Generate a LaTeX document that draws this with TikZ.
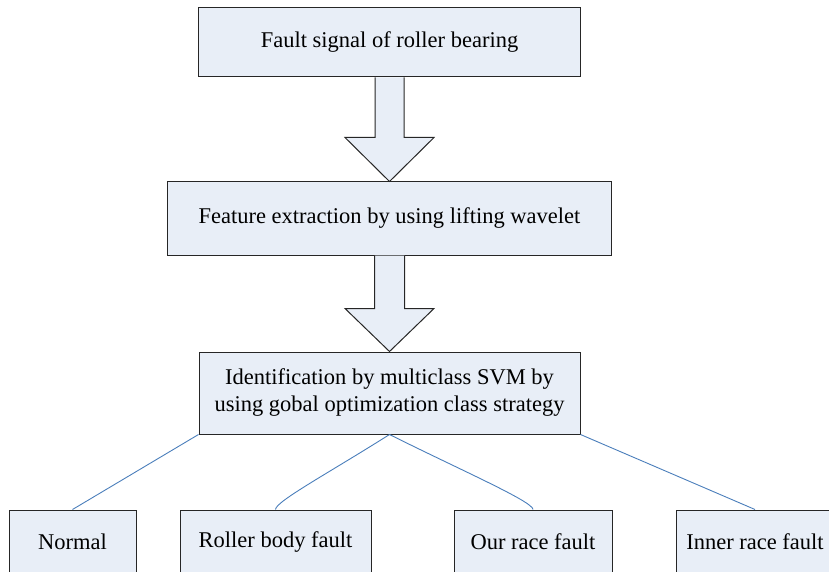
\documentclass[tikz,border=0pt]{standalone}
\usepackage{fontspec}
\setmainfont{Liberation Serif}
\usetikzlibrary{positioning,calc}
\definecolor{boxfill}{RGB}{232,238,247}
\definecolor{linkblue}{RGB}{74,126,187}

\begin{document}
\begin{tikzpicture}[x=1pt, y=-1pt,
    flow block/.style={draw=black!85, line width=1pt, fill=boxfill, rectangle, align=center, inner sep=0pt, font=\fontsize{22.5}{27}\selectfont},
    class block/.style={flow block, minimum width=158, minimum height=64},
    fat arrow/.style={draw=black!85, line width=1pt, fill=boxfill, line join=miter},
    link/.style={draw=linkblue, line width=0.9pt}]
    \useasboundingbox (0,0) rectangle (829,572);
    \clip (0,0) rectangle (829,572);

    \node[flow block, minimum width=382, minimum height=69] (sig) at (389.5,42.5) {Fault signal of roller bearing};
    \node[flow block, minimum width=444, minimum height=73] (feat) at (389.5,218.5) {Feature extraction by using lifting wavelet};
    \node[flow block, minimum width=381, minimum height=82] (svm) at (389.5,393) {Identification by multiclass SVM by\\using gobal optimization class strategy};

    \node[class block, minimum width=127] (norm) at (72.5,542) {Normal};
    \node[class block, minimum width=191] (roll) at (275.5,542) {Roller body fault};
    \node[class block] (outr) at (533,542) {Our race fault};
    \node[class block] (innr) at (755,542) {Inner race fault};

    % block arrows
    \draw[fat arrow] ($(sig.south)+(-14.5,0)$) -- ($(feat.north)+(-14.5,-44)$) -- ($(feat.north)+(-44.5,-44)$) -- (feat.north) -- ($(feat.north)+(44.5,-44)$) -- ($(feat.north)+(14.5,-44)$) -- ($(sig.south)+(14.5,0)$);
    \draw[fat arrow] ($(feat.south)+(-15,0)$) -- ($(svm.north)+(-15,-43)$) -- ($(svm.north)+(-44.5,-43)$) -- (svm.north) -- ($(svm.north)+(44.5,-43)$) -- ($(svm.north)+(15,-43)$) -- ($(feat.south)+(15,0)$);

    \draw[link] (svm.south west) -- (norm.north);
    \draw[link] (svm.south) .. controls +(-60,38) and +(0,-8) .. (roll.north);
    \draw[link] (svm.south) .. controls +(70,35) and +(0,-8) .. (outr.north);
    \draw[link] (svm.south east) -- (innr.north);
\end{tikzpicture}
\end{document}
